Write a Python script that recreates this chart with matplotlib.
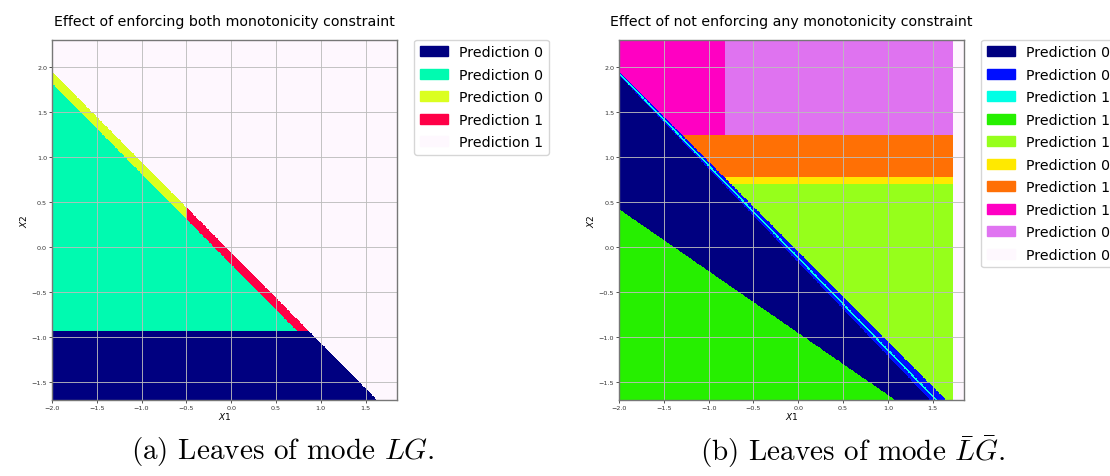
import numpy as np
import matplotlib
matplotlib.use("Agg")
import matplotlib.pyplot as plt
from matplotlib.colors import ListedColormap
from matplotlib.patches import Patch

# ---------------- data ----------------
x1_limits = (-2.0, 1.85)
x2_limits = (-1.7, 2.3)
x1_ticks = [-2.0, -1.5, -1.0, -0.5, 0.0, 0.5, 1.0, 1.5]
x2_ticks = [-1.5, -1.0, -0.5, 0.0, 0.5, 1.0, 1.5, 2.0]

left_title = "Effect of enforcing both monotonicity constraint"
left_labels = ["Prediction 0", "Prediction 0", "Prediction 0", "Prediction 1", "Prediction 1"]
# decision boundaries of the constrained model (x2 value at x1=-2, slope)
left_outer_line = (1.95, -1.006)
left_inner_line = (1.82, -1.007)
left_x2_split = -0.93
left_x1_split = -0.5

right_title = "Effect of not enforcing any monotonicity constraint"
right_labels = ["Prediction 0", "Prediction 0", "Prediction 1", "Prediction 1", "Prediction 1",
                "Prediction 0", "Prediction 1", "Prediction 1", "Prediction 0", "Prediction 0"]
right_navy_line = (1.906, -1.039)
right_cyan_line = (1.93, -1.025)
right_cyan_width = 0.025
right_blue_line = (1.95, -1.0)
right_green_line = (0.42, -0.688)
right_x1_max = 1.725
right_x2_levels = [0.707, 0.78, 1.245]
right_x1_split = -0.82

captions = [r"(a) Leaves of mode $LG$.", r"(b) Leaves of mode $\bar{L}\bar{G}$."]

# ---------------- grid ----------------
xs = np.linspace(x1_limits[0], x1_limits[1], 800)
ys = np.linspace(x2_limits[0], x2_limits[1], 800)
X, Y = np.meshgrid(xs, ys)


def below(line, offset=0.0):
    b, m = line
    return Y < b + offset + m * (X + 2.0)


# left classes
L = np.full(X.shape, 4)
m_out = below(left_outer_line)
L[m_out & (X < left_x1_split)] = 2
L[m_out & (X >= left_x1_split)] = 3
L[m_out & below(left_inner_line)] = 1
L[m_out & (Y < left_x2_split)] = 0

# right classes
R = np.full(X.shape, 9)
inside = X <= right_x1_max
lv = right_x2_levels
R[inside & (Y < lv[0])] = 4
R[inside & (Y >= lv[0]) & (Y < lv[1])] = 5
R[inside & (Y >= lv[1]) & (Y < lv[2])] = 6
R[inside & (Y >= lv[2]) & (X < right_x1_split)] = 7
R[inside & (Y >= lv[2]) & (X >= right_x1_split)] = 8
R[below(right_blue_line)] = 1
R[below(right_cyan_line, right_cyan_width / 2) & ~below(right_cyan_line, -right_cyan_width / 2)] = 2
R[below(right_navy_line)] = 0
R[below(right_green_line)] = 3

# ---------------- figure ----------------
fig = plt.figure(figsize=(11.1, 4.77), dpi=100)

panels = [
    (0.0468, left_title, L, left_labels, 414),
    (0.5577, right_title, R, right_labels, 981),
]

for left, title, grid, labels, leg_x in panels:
    n = len(labels)
    colors = plt.cm.gist_ncar(np.linspace(0, 1, n))
    ax = fig.add_axes([left, 0.16, 0.3108, 0.754])
    ax.imshow(grid, origin="lower", extent=(x1_limits[0], x1_limits[1], x2_limits[0], x2_limits[1]),
              cmap=ListedColormap(colors), vmin=-0.5, vmax=n - 0.5,
              interpolation="nearest", aspect="auto")
    ax.set_xlim(*x1_limits)
    ax.set_ylim(*x2_limits)
    ax.set_xticks(x1_ticks)
    ax.set_yticks(x2_ticks)
    ax.tick_params(labelsize=4.6, length=2, width=0.6, colors="#333333", pad=1.5)
    ax.grid(True, color="#bcbcbc", lw=0.7, alpha=0.9)
    for s in ax.spines.values():
        s.set_color("#777777")
        s.set_linewidth(1.0)
    ax.set_xlabel("$X1$", fontsize=6.5, labelpad=0)
    ax.set_ylabel("$X2$", fontsize=6.5, labelpad=2)
    ax.set_title(title, fontsize=10.2, pad=11)
    handles = [Patch(facecolor=c, edgecolor=c) for c in colors]
    ax.legend(handles, labels, loc="upper left", fontsize=10.2,
              bbox_to_anchor=(leg_x / 1110, 1 - 40.5 / 477), bbox_transform=fig.transFigure,
              borderaxespad=0, labelspacing=0.6)

fig.text(283 / 1110, 1 - 452 / 477, captions[0], fontsize=21, family="cmr10",
         math_fontfamily="cm", ha="center", va="center")
fig.text(853 / 1110, 1 - 452 / 477, captions[1], fontsize=21, family="cmr10",
         math_fontfamily="cm", ha="center", va="center")

fig.savefig("out.png", dpi=100)
